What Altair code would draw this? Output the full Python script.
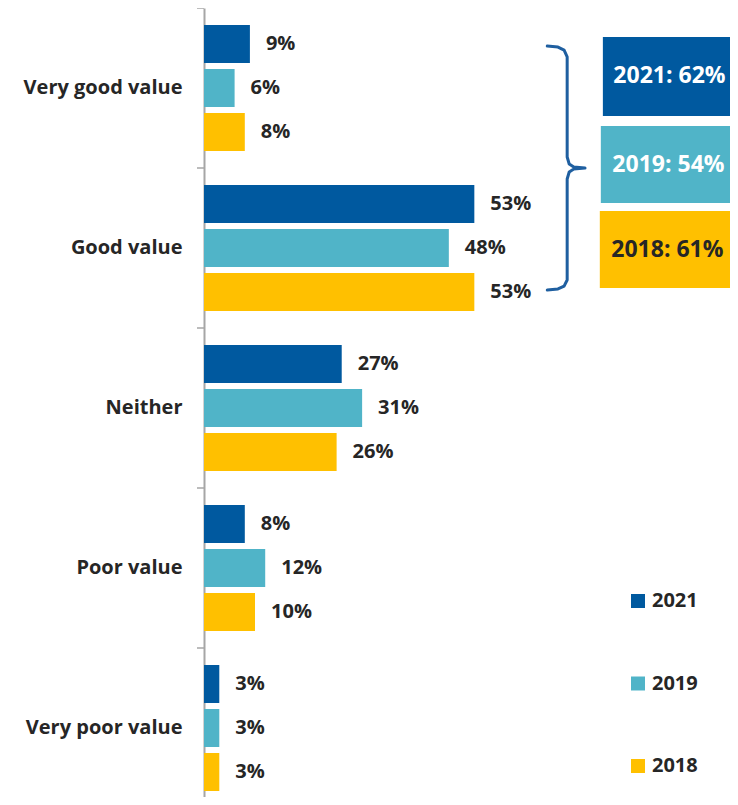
import altair as alt
import pandas as pd

# ---------------- data ----------------
categories = ["Very good value", "Good value", "Neither", "Poor value", "Very poor value"]
years = ["2021", "2019", "2018"]
values_2021 = [9, 53, 27, 8, 3]
values_2019 = [6, 48, 31, 12, 3]
values_2018 = [8, 53, 26, 10, 3]
colors = ["#00599F", "#50B4C8", "#FFC000"]

summary_labels = ["2021: 62%", "2019: 54%", "2018: 61%"]
summary_text_colors = ["#FFFFFF", "#FFFFFF", "#262626"]
# box extents: x in % units, y in category-band units (0 = top)
box_x0 = [78.2, 77.8, 77.6]
box_x1 = [104.3, 104.3, 104.1]
box_y0 = [0.181, 0.738, 1.269]
box_y1 = [0.675, 1.219, 1.750]

# curly brace outline (x in % units, y in band units)
brace_x = [67.3, 69.4, 70.6, 71.2, 71.2, 71.6, 72.5, 74.7, 72.5, 71.6, 71.2, 71.2, 70.6, 69.4, 67.3]
brace_y = [0.238, 0.244, 0.263, 0.306, 0.931, 0.975, 0.994, 1.000, 1.006, 1.025, 1.069, 1.700, 1.738, 1.756, 1.763]

FONT = "Open Sans"
TEXT = "#262626"
AXIS_GRAY = "#A6A6A6"
X_DOMAIN = [0, 104.3]

rows = []
for yr, vals in zip(years, [values_2021, values_2019, values_2018]):
    for c, v in zip(categories, vals):
        rows.append({"cat": c, "year": yr, "value": v, "label": f"{v}%"})
df = pd.DataFrame(rows)

boxes = pd.DataFrame({
    "label": summary_labels,
    "fill": colors,
    "tcolor": summary_text_colors,
    "x0": box_x0, "x1": box_x1, "y0": box_y0, "y1": box_y1,
})
boxes["xc"] = (boxes["x0"] + boxes["x1"]) / 2
boxes["yc"] = (boxes["y0"] + boxes["y1"]) / 2

brace = pd.DataFrame({"i": list(range(len(brace_x))), "x": brace_x, "y": brace_y})
ticks_df = pd.DataFrame({"cat": categories})

# ---------------- encodings ----------------
y_enc = alt.Y(
    "cat:N", sort=categories,
    scale=alt.Scale(paddingInner=0, paddingOuter=0),
    axis=alt.Axis(
        title=None, ticks=False, domainColor=AXIS_GRAY, domainWidth=2,
        labelFont=FONT, labelFontWeight="bold", labelFontSize=20, labelColor=TEXT,
        labelPadding=22, labelLimit=300,
    ),
)
yoff_enc = alt.YOffset("year:N", sort=years, scale=alt.Scale(paddingInner=0.136, paddingOuter=0.386))
x_enc = alt.X("value:Q", scale=alt.Scale(domain=X_DOMAIN), axis=None)

bars = alt.Chart(df).mark_bar().encode(
    y=y_enc,
    yOffset=yoff_enc,
    x=x_enc,
    color=alt.Color(
        "year:N", sort=years,
        scale=alt.Scale(domain=years, range=colors),
        legend=alt.Legend(
            title=None, orient="none", legendX=424, legendY=583,
            symbolType="square", symbolSize=196, symbolStrokeWidth=0,
            labelFont=FONT, labelFontWeight="bold", labelFontSize=20, labelColor=TEXT,
            labelOffset=4, rowPadding=62.5, direction="vertical",
        ),
    ),
)

labels = alt.Chart(df).mark_text(
    align="left", baseline="middle", dx=16,
    font=FONT, fontWeight="bold", fontSize=20, color=TEXT,
).encode(y=alt.Y("cat:N", sort=categories), yOffset=yoff_enc, x=x_enc, text="label:N")

ticks = alt.Chart(ticks_df).mark_rule(color=AXIS_GRAY, strokeWidth=1.5).encode(
    y=alt.Y("cat:N", sort=categories, bandPosition=0),
    x=alt.value(-7), x2=alt.value(0),
)

base = alt.layer(bars, labels, ticks)

ya = alt.Scale(domain=[0, 5], reverse=True)
xa = alt.Scale(domain=X_DOMAIN)

box_rects = alt.Chart(boxes).mark_rect().encode(
    x=alt.X("x0:Q", scale=xa, axis=None), x2="x1:Q",
    y=alt.Y("y0:Q", scale=ya, axis=None), y2="y1:Q",
    color=alt.Color("fill:N", scale=None),
)
box_text = alt.Chart(boxes).mark_text(
    align="center", baseline="middle", font=FONT, fontWeight="bold", fontSize=23,
).encode(
    x=alt.X("xc:Q", scale=xa, axis=None),
    y=alt.Y("yc:Q", scale=ya, axis=None),
    text="label:N",
    color=alt.Color("tcolor:N", scale=None),
)
brace_line = alt.Chart(brace).mark_line(color="#1F5FA0", strokeWidth=3, strokeJoin="round", strokeCap="round").encode(
    x=alt.X("x:Q", scale=xa, axis=None),
    y=alt.Y("y:Q", scale=ya, axis=None),
    order="i:Q",
)

annot = alt.layer(box_rects, box_text, brace_line)

chart = alt.layer(base, annot).resolve_scale(y="independent").properties(
    width=532, height=800,
    autosize=alt.AutoSizeParams(type="none"),
    padding={"left": 196, "top": 0, "right": -6, "bottom": -11},
    background="white",
).configure_view(stroke=None)

chart.save("out.html", embed_options={"renderer": "svg", "actions": False})
